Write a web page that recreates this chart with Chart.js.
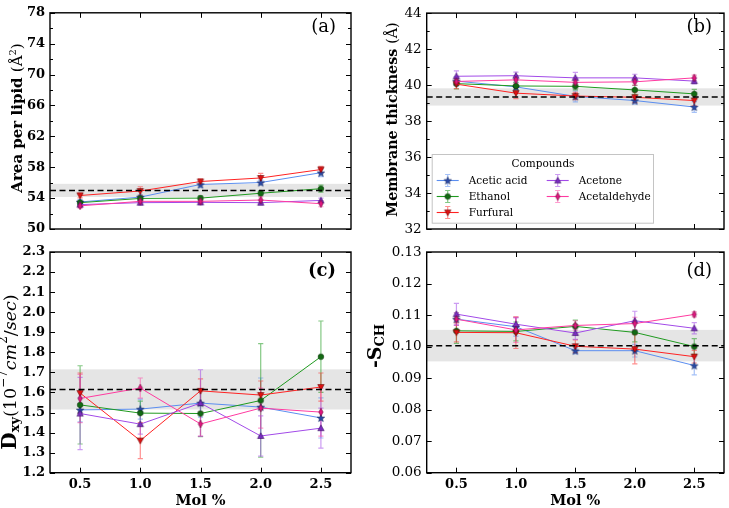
<!DOCTYPE html>
<html><head><meta charset="utf-8">
<script src="https://cdn.jsdelivr.net/npm/chart.js@4"></script>
<style>
body{margin:0;background:#fff}
#wrap{position:relative;width:729px;height:508px;overflow:hidden;background:#fff}
canvas{position:absolute}
</style></head><body>
<div id="wrap">
<canvas id="pa"></canvas><canvas id="pb"></canvas><canvas id="pc"></canvas><canvas id="pd"></canvas>
</div>
<script>
// ---------- data ----------
const molPercent = [0.5, 1.0, 1.5, 2.0, 2.5];
const compoundNames = ['Acetic acid', 'Ethanol', 'Furfural', 'Acetone', 'Acetaldehyde'];

// (a) Area per lipid (Å²)
const areaAceticAcid      = [53.50, 54.13, 55.77, 56.02, 57.29];
const areaAceticAcidErr   = [0.30, 0.30, 0.40, 0.30, 0.50];
const areaEthanol         = [53.41, 53.96, 54.00, 54.63, 55.22];
const areaEthanolErr      = [0.25, 0.30, 0.30, 0.30, 0.45];
const areaFurfural        = [54.34, 54.92, 56.15, 56.61, 57.70];
const areaFurfuralErr     = [0.30, 0.55, 0.35, 0.60, 0.40];
const areaAcetone         = [53.16, 53.41, 53.45, 53.41, 53.70];
const areaAcetoneErr      = [0.30, 0.30, 0.30, 0.30, 0.30];
const areaAcetaldehyde    = [53.00, 53.58, 53.58, 53.75, 53.28];
const areaAcetaldehydeErr = [0.30, 0.35, 0.30, 0.40, 0.40];
const areaPure = 55.0, areaPureSd = 0.85;
const areaTicks = [50, 54, 58, 62, 66, 70, 74, 78];
const areaMinorTicks = [52, 56, 60, 64, 68, 72, 76];

// (b) Membrane thickness (Å)
const thickAceticAcid      = [40.22, 39.90, 39.37, 39.14, 38.78];
const thickAceticAcidErr   = [0.25, 0.25, 0.30, 0.20, 0.30];
const thickEthanol         = [40.08, 39.95, 39.93, 39.73, 39.51];
const thickEthanolErr      = [0.30, 0.20, 0.20, 0.25, 0.25];
const thickFurfural        = [40.05, 39.55, 39.39, 39.32, 39.14];
const thickFurfuralErr     = [0.25, 0.30, 0.20, 0.30, 0.30];
const thickAcetone         = [40.49, 40.52, 40.40, 40.40, 40.22];
const thickAcetoneErr      = [0.30, 0.20, 0.30, 0.20, 0.15];
const thickAcetaldehyde    = [40.20, 40.29, 40.15, 40.18, 40.40];
const thickAcetaldehydeErr = [0.20, 0.20, 0.20, 0.20, 0.15];
const thickPure = 39.34, thickPureSd = 0.48;
const thickTicks = [32, 34, 36, 38, 40, 42, 44];
const thickMinorTicks = [33, 35, 37, 39, 41, 43];

// (c) Dxy (10^-7 cm^2/sec)
const diffAceticAcid      = [1.513, 1.517, 1.547, 1.527, 1.473];
const diffAceticAcidErr   = [0.06, 0.05, 0.07, 0.145, 0.10];
const diffEthanol         = [1.538, 1.497, 1.495, 1.560, 1.778];
const diffEthanolErr      = [0.195, 0.06, 0.115, 0.283, 0.178];
const diffFurfural        = [1.597, 1.360, 1.608, 1.587, 1.627];
const diffFurfuralErr     = [0.10, 0.09, 0.06, 0.07, 0.07];
const diffAcetone         = [1.495, 1.442, 1.547, 1.383, 1.422];
const diffAcetoneErr      = [0.18, 0.05, 0.166, 0.10, 0.10];
const diffAcetaldehyde    = [1.570, 1.622, 1.443, 1.522, 1.502];
const diffAcetaldehydeErr = [0.12, 0.05, 0.06, 0.10, 0.12];
const diffPure = 1.615, diffPureSd = 0.10;
const diffTicks = [1.2, 1.3, 1.4, 1.5, 1.6, 1.7, 1.8, 1.9, 2.0, 2.1, 2.2, 2.3];

// (d) -S_CH
const orderAceticAcid      = [0.1087, 0.1063, 0.0987, 0.0987, 0.0940];
const orderAceticAcidErr   = [0.0020, 0.0030, 0.0010, 0.0020, 0.0030];
const orderEthanol         = [0.1050, 0.1048, 0.1064, 0.1045, 0.1000];
const orderEthanolErr      = [0.0040, 0.0030, 0.0020, 0.0030, 0.0025];
const orderFurfural        = [0.1045, 0.1044, 0.1001, 0.0992, 0.0968];
const orderFurfuralErr     = [0.0030, 0.0050, 0.0020, 0.0047, 0.0020];
const orderAcetone         = [0.1103, 0.1071, 0.1043, 0.1082, 0.1058];
const orderAcetoneErr      = [0.0034, 0.0020, 0.0020, 0.0030, 0.0018];
const orderAcetaldehyde    = [0.1087, 0.1053, 0.1067, 0.1073, 0.1102];
const orderAcetaldehydeErr = [0.0020, 0.0040, 0.0015, 0.0020, 0.0008];
const orderPure = 0.1003, orderPureSd = 0.005;
const orderTicks = [0.06, 0.07, 0.08, 0.09, 0.10, 0.11, 0.12, 0.13];

// ---------- styles ----------
const SERIF = '"DejaVu Serif", serif';
const seriesStyle = [
  {line:'#5b8ef0', err:'rgba(91,142,240,0.55)', fill:'#2a4aa8', edge:'#142660', shape:'star'},
  {line:'#1f9a1f', err:'rgba(31,154,31,0.55)', fill:'#126a12', edge:'#083808', shape:'circle'},
  {line:'#ff2222', err:'rgba(255,34,34,0.5)',  fill:'#e01010', edge:'#6a0000', shape:'tridown'},
  {line:'#a24ae8', err:'rgba(162,74,232,0.55)', fill:'#7a2cc0', edge:'#3a1060', shape:'triup'},
  {line:'#ff3aa0', err:'rgba(255,58,160,0.5)', fill:'#e0167f', edge:'#6a0838', shape:'thindiamond'}
];

function makeMarker(st){
  const c = document.createElement('canvas');
  c.width = 10; c.height = 10;
  const g = c.getContext('2d');
  g.fillStyle = st.fill; g.strokeStyle = st.edge; g.lineWidth = 0.6;
  g.beginPath();
  const cx = 5, cy = 5;
  if (st.shape === 'star'){
    for (let k = 0; k < 10; k++){
      const r = k % 2 === 0 ? 3.9 : 1.6;
      const a = -Math.PI/2 + k*Math.PI/5;
      const px = cx + r*Math.cos(a), py = cy + 0.4 + r*Math.sin(a);
      k === 0 ? g.moveTo(px, py) : g.lineTo(px, py);
    }
    g.closePath();
  } else if (st.shape === 'circle'){
    g.arc(cx, cy, 2.8, 0, Math.PI*2);
  } else if (st.shape === 'tridown'){
    g.moveTo(cx-3.2, cy-2.5); g.lineTo(cx+3.2, cy-2.5); g.lineTo(cx, cy+3.2); g.closePath();
  } else if (st.shape === 'triup'){
    g.moveTo(cx-3.2, cy+2.5); g.lineTo(cx+3.2, cy+2.5); g.lineTo(cx, cy-3.2); g.closePath();
  } else {
    g.moveTo(cx, cy-3.8); g.lineTo(cx+2.2, cy); g.lineTo(cx, cy+3.8); g.lineTo(cx-2.2, cy); g.closePath();
  }
  g.fill(); g.stroke();
  return c;
}
const markers = seriesStyle.map(makeMarker);

function drawRich(ctx, parts, cx, cy, rotate){
  ctx.save();
  ctx.translate(cx, cy);
  if (rotate) ctx.rotate(-Math.PI/2);
  let total = 0;
  parts.forEach(p => { ctx.font = p.font; p.w = ctx.measureText(p.t).width; total += p.w; });
  let x = -total/2;
  ctx.textBaseline = 'middle'; ctx.textAlign = 'left'; ctx.fillStyle = '#000';
  parts.forEach(p => { ctx.font = p.font; ctx.fillText(p.t, x, p.dy || 0); x += p.w; });
  ctx.restore();
}

const X_MIN = 0.25, X_MAX = 2.75;

function panelPlugin(cfg){
  return {
    id: 'deco_' + cfg.id,
    beforeDatasetsDraw(chart){
      const {ctx, chartArea:a, scales:{x, y}} = chart;
      ctx.save();
      ctx.beginPath(); ctx.rect(a.left, a.top, a.right-a.left, a.bottom-a.top); ctx.clip();
      const t = y.getPixelForValue(cfg.ref + cfg.refSd), b = y.getPixelForValue(cfg.ref - cfg.refSd);
      ctx.fillStyle = '#e5e5e5';
      ctx.fillRect(a.left, t, a.right-a.left, b-t);
      ctx.restore();
      ctx.save();
      ctx.lineWidth = 1.2;
      cfg.values.forEach((vals, i) => {
        ctx.strokeStyle = seriesStyle[i].err;
        vals.forEach((v, j) => {
          const px = x.getPixelForValue(molPercent[j]);
          const y1 = y.getPixelForValue(v + cfg.errors[i][j]);
          const y2 = y.getPixelForValue(v - cfg.errors[i][j]);
          ctx.beginPath();
          ctx.moveTo(px, y1); ctx.lineTo(px, y2);
          ctx.moveTo(px-2.6, y1); ctx.lineTo(px+2.6, y1);
          ctx.moveTo(px-2.6, y2); ctx.lineTo(px+2.6, y2);
          ctx.stroke();
        });
      });
      ctx.restore();
    },
    afterDraw(chart){
      const {ctx, chartArea:a, scales:{x, y}} = chart;
      ctx.save();
      // ticks (inward, all sides)
      ctx.strokeStyle = '#000'; ctx.lineWidth = 1;
      ctx.beginPath();
      molPercent.forEach(v => {
        const px = Math.round(x.getPixelForValue(v)) + 0.5;
        ctx.moveTo(px, a.bottom); ctx.lineTo(px, a.bottom-5);
        ctx.moveTo(px, a.top); ctx.lineTo(px, a.top+5);
      });
      cfg.yTicks.forEach(v => {
        const py = Math.round(y.getPixelForValue(v)) + 0.5;
        ctx.moveTo(a.left, py); ctx.lineTo(a.left+5, py);
        ctx.moveTo(a.right, py); ctx.lineTo(a.right-5, py);
      });
      (cfg.yMinor || []).forEach(v => {
        const py = Math.round(y.getPixelForValue(v)) + 0.5;
        ctx.moveTo(a.left, py); ctx.lineTo(a.left+3, py);
        ctx.moveTo(a.right, py); ctx.lineTo(a.right-3, py);
      });
      ctx.stroke();
      // frame
      ctx.lineWidth = 1.4;
      ctx.strokeRect(a.left, a.top, a.right-a.left, a.bottom-a.top);
      // y title
      drawRich(ctx, cfg.yTitle, cfg.yTitleX, cfg.yTitleY, true);
      // x title
      if (cfg.showX){
        drawRich(ctx, [{t:'Mol %', font:'bold 14.5px ' + SERIF}], (a.left+a.right)/2, cfg.xTitleY, false);
      }
      // panel label
      ctx.font = cfg.panelFont;
      ctx.fillStyle = '#000'; ctx.textAlign = 'right'; ctx.textBaseline = 'middle';
      ctx.fillText(cfg.panelLabel, cfg.panelX, cfg.panelY);
      // legend
      if (cfg.legend){
        const L = cfg.legend;
        ctx.fillStyle = 'rgba(255,255,255,0.85)';
        ctx.fillRect(L.x0, L.y0, L.x1-L.x0, L.y1-L.y0);
        ctx.strokeStyle = '#c4c4c4'; ctx.lineWidth = 1;
        ctx.strokeRect(L.x0+0.5, L.y0+0.5, L.x1-L.x0, L.y1-L.y0);
        ctx.fillStyle = '#000'; ctx.textAlign = 'center'; ctx.textBaseline = 'middle';
        ctx.font = '10.5px ' + SERIF;
        ctx.fillText('Compounds', L.titleX, L.titleY);
        compoundNames.forEach((name, i) => {
          const col = i < 3 ? 0 : 1, row = i < 3 ? i : i-3;
          const lx = L.colX[col], ly = L.rowY[row];
          const st = seriesStyle[i];
          ctx.strokeStyle = st.line; ctx.lineWidth = 1.1;
          ctx.beginPath(); ctx.moveTo(lx, ly); ctx.lineTo(lx+22, ly); ctx.stroke();
          const mx = lx + 11;
          ctx.strokeStyle = st.err; ctx.lineWidth = 1.2;
          ctx.beginPath();
          ctx.moveTo(mx, ly-6); ctx.lineTo(mx, ly+6);
          ctx.moveTo(mx-2.6, ly-6); ctx.lineTo(mx+2.6, ly-6);
          ctx.moveTo(mx-2.6, ly+6); ctx.lineTo(mx+2.6, ly+6);
          ctx.stroke();
          ctx.drawImage(markers[i], mx-5, ly-5);
          ctx.fillStyle = '#000'; ctx.textAlign = 'left';
          ctx.font = '10.5px ' + SERIF;
          ctx.fillText(name, lx + 32, ly + 0.5);
        });
      }
      ctx.restore();
    }
  };
}

function makePanel(cfg){
  const cv = document.getElementById(cfg.id);
  cv.width = cfg.w; cv.height = cfg.h;
  cv.style.left = cfg.left + 'px'; cv.style.top = cfg.top + 'px';
  const datasets = cfg.values.map((vals, i) => ({
    label: compoundNames[i],
    data: molPercent.map((xv, j) => ({x: xv, y: vals[j]})),
    borderColor: seriesStyle[i].line,
    borderWidth: 1,
    pointStyle: markers[i],
    pointRadius: 4,
    fill: false,
    tension: 0,
    order: 10 - i
  }));
  datasets.push({
    label: 'pure membrane',
    data: [{x: X_MIN, y: cfg.ref}, {x: X_MAX, y: cfg.ref}],
    borderColor: '#000', borderWidth: 1.5, borderDash: [6, 3.5],
    pointRadius: 0, fill: false, order: 0
  });
  new Chart(cv, {
    type: 'line',
    data: {datasets},
    options: {
      responsive: false, animation: false, devicePixelRatio: 1,
      layout: {padding: {left: 0, top: cfg.padTop, right: cfg.padRight, bottom: 0}},
      plugins: {legend: {display: false}, tooltip: {enabled: false}},
      scales: {
        x: {
          type: 'linear', min: X_MIN, max: X_MAX,
          afterBuildTicks: s => { s.ticks = molPercent.map(v => ({value: v})); },
          grid: {display: false, drawTicks: false}, border: {display: false},
          ticks: {display: cfg.showX, autoSkip: false, maxRotation: 0, padding: 4, color: '#000',
                  font: {family: SERIF, size: 13, weight: 'bold'},
                  callback: v => Number(v).toFixed(1)},
          afterFit: s => { s.height = cfg.xh; }
        },
        y: {
          type: 'linear', min: cfg.yMin, max: cfg.yMax,
          afterBuildTicks: s => { s.ticks = cfg.yTicks.map(v => ({value: v})); },
          grid: {display: false, drawTicks: false}, border: {display: false},
          ticks: {autoSkip: false, padding: 5, color: '#000',
                  font: {family: SERIF, size: cfg.tickSize, weight: cfg.tickWeight},
                  callback: v => Number(v).toFixed(cfg.dec)},
          afterFit: s => { s.width = cfg.yw; }
        }
      }
    },
    plugins: [panelPlugin(cfg)]
  });
}

makePanel({
  id: 'pa', left: 0, top: 0, w: 360, h: 245, yw: 50, xh: 16, padTop: 7, padRight: 9,
  values: [areaAceticAcid, areaEthanol, areaFurfural, areaAcetone, areaAcetaldehyde],
  errors: [areaAceticAcidErr, areaEthanolErr, areaFurfuralErr, areaAcetoneErr, areaAcetaldehydeErr],
  ref: areaPure, refSd: areaPureSd, yMin: 50, yMax: 78, yTicks: areaTicks, yMinor: areaMinorTicks, dec: 0,
  tickSize: 13, tickWeight: 'bold', showX: false,
  yTitle: [{t:'Area per lipid ', font:'bold 15px ' + SERIF}, {t:'(Å', font:'15px ' + SERIF},
           {t:'2', font:'10px ' + SERIF, dy:-5}, {t:')', font:'15px ' + SERIF}],
  yTitleX: 18, yTitleY: 118,
  panelLabel: '(a)', panelFont: '18px ' + SERIF, panelX: 336, panelY: 27
});
makePanel({
  id: 'pb', left: 355, top: 0, w: 374, h: 245, yw: 71.7, xh: 16, padTop: 7, padRight: 2.3,
  values: [thickAceticAcid, thickEthanol, thickFurfural, thickAcetone, thickAcetaldehyde],
  errors: [thickAceticAcidErr, thickEthanolErr, thickFurfuralErr, thickAcetoneErr, thickAcetaldehydeErr],
  ref: thickPure, refSd: thickPureSd, yMin: 32, yMax: 44, yTicks: thickTicks, yMinor: thickMinorTicks, dec: 0,
  tickSize: 13.5, tickWeight: 'normal', showX: false,
  yTitle: [{t:'Membrane thickness ', font:'bold 14.3px ' + SERIF}, {t:'(Å)', font:'14.3px ' + SERIF}],
  yTitleX: 38, yTitleY: 119.5,
  panelLabel: '(b)', panelFont: '18px ' + SERIF, panelX: 357, panelY: 27,
  legend: {x0: 76.7, y0: 154, x1: 298, y1: 222.7, titleX: 188, titleY: 164.5,
           colX: [81.7, 191.7], rowY: [180.5, 196.5, 212.5]}
});
makePanel({
  id: 'pc', left: 0, top: 238, w: 360, h: 270, yw: 50, xh: 35.3, padTop: 14, padRight: 9,
  values: [diffAceticAcid, diffEthanol, diffFurfural, diffAcetone, diffAcetaldehyde],
  errors: [diffAceticAcidErr, diffEthanolErr, diffFurfuralErr, diffAcetoneErr, diffAcetaldehydeErr],
  ref: diffPure, refSd: diffPureSd, yMin: 1.2, yMax: 2.3, yTicks: diffTicks, dec: 1,
  tickSize: 13, tickWeight: 'bold', showX: true, xTitleY: 263,
  yTitle: [{t:'D', font:'bold 20px ' + SERIF}, {t:'xy', font:'bold 13px ' + SERIF, dy:5},
           {t:'(10', font:'17.5px ' + SERIF}, {t:'−7', font:'12px ' + SERIF, dy:-7},
           {t:'cm', font:'italic 17.5px ' + SERIF}, {t:'2', font:'12px ' + SERIF, dy:-7},
           {t:'/', font:'17.5px ' + SERIF}, {t:'sec', font:'italic 17.5px ' + SERIF}, {t:')', font:'17.5px ' + SERIF}],
  yTitleX: 11, yTitleY: 134,
  panelLabel: '(c)', panelFont: 'bold 18px ' + SERIF, panelX: 336, panelY: 33
});
makePanel({
  id: 'pd', left: 355, top: 238, w: 374, h: 270, yw: 71.7, xh: 35.3, padTop: 14, padRight: 2.3,
  values: [orderAceticAcid, orderEthanol, orderFurfural, orderAcetone, orderAcetaldehyde],
  errors: [orderAceticAcidErr, orderEthanolErr, orderFurfuralErr, orderAcetoneErr, orderAcetaldehydeErr],
  ref: orderPure, refSd: orderPureSd, yMin: 0.06, yMax: 0.13, yTicks: orderTicks, dec: 2,
  tickSize: 13.5, tickWeight: 'normal', showX: true, xTitleY: 263,
  yTitle: [{t:'-S', font:'bold 19px ' + SERIF}, {t:'CH', font:'bold 13px ' + SERIF, dy:5}],
  yTitleX: 21, yTitleY: 108,
  panelLabel: '(d)', panelFont: '18px ' + SERIF, panelX: 357, panelY: 33
});
</script>
</body></html>
